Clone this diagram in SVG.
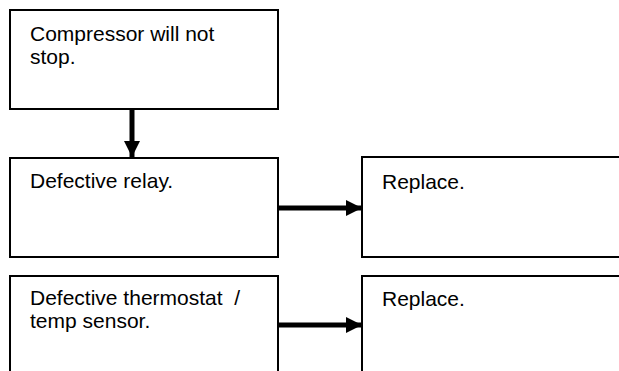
<svg xmlns="http://www.w3.org/2000/svg" width="619" height="371" viewBox="0 0 619 371">
<style>
.box{fill:#fff;stroke:#000;stroke-width:2}
.t{font-family:"Liberation Sans",Arial,sans-serif;font-size:21px;fill:#000;white-space:pre}
.c{stroke:#000;stroke-width:5;fill:none}
</style>
<defs>
<marker id="ah" markerUnits="userSpaceOnUse" markerWidth="16" markerHeight="16" refX="16" refY="8" orient="auto">
<path d="M0,0 L16,8 L0,16 Z" fill="#000"/>
</marker>
</defs>
<rect width="619" height="371" fill="#fff"/>
<g id="n1"><rect class="box" x="10" y="10" width="268" height="99"/>
<text class="t" x="30" y="41">Compressor will not</text><text class="t" x="30" y="64">stop.</text></g>
<g id="n2"><rect class="box" x="10" y="158" width="268" height="99"/>
<text class="t" x="30" y="188">Defective relay.</text></g>
<g id="n3"><rect class="box" x="362" y="157" width="270" height="100"/>
<text class="t" x="382" y="189">Replace.</text></g>
<g id="n4"><rect class="box" x="10" y="276" width="268" height="110"/>
<text class="t" x="30" y="305" xml:space="preserve">Defective thermostat  /</text><text class="t" x="30" y="328">temp sensor.</text></g>
<g id="n5"><rect class="box" x="362" y="276" width="270" height="110"/>
<text class="t" x="382" y="306">Replace.</text></g>
<g id="connectors">
<line class="c" x1="132" y1="109" x2="132" y2="157" marker-end="url(#ah)"/>
<line class="c" x1="278" y1="208" x2="362" y2="208" marker-end="url(#ah)"/>
<line class="c" x1="278" y1="325" x2="362" y2="325" marker-end="url(#ah)"/>
</g>
</svg>
